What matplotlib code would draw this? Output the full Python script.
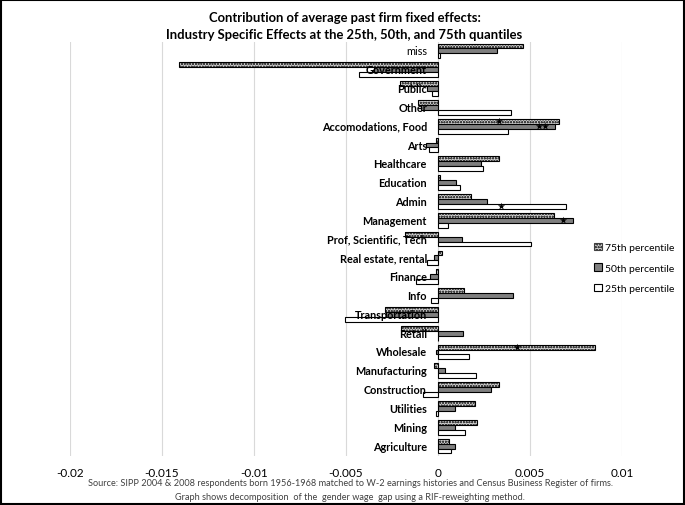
import matplotlib.pyplot as plt
import numpy as np
from matplotlib.patches import Rectangle

plt.rcParams['font.family'] = ['Lato', 'DejaVu Sans']
plt.rcParams['hatch.linewidth'] = 0.6

# top to bottom as in the chart
categories = ["miss", "Government", "Public", "Other", "Accomodations, Food",
              "Arts", "Healthcare", "Education", "Admin", "Management",
              "Prof, Scientific, Tech", "Real estate, rental", "Finance",
              "Info", "Transportation", "Retail", "Wholesale",
              "Manufacturing", "Construction", "Utilities", "Mining",
              "Agriculture"]
p75 = [0.0046, -0.01405, -0.00205, -0.0011, 0.00655, -0.0001, 0.0033,
       0.0001, 0.0018, 0.00628, -0.00182, 0.0002, -0.0001, 0.0014,
       -0.0029, -0.002, 0.00855, -0.0002, 0.0033, 0.002, 0.0021, 0.0006]
p50 = [0.00318, -0.0035, -0.0006, -0.0009, 0.00637, -0.00064, 0.00236,
       0.001, 0.00267, 0.00736, 0.0013, -0.00023, -0.00046, 0.00407,
       -0.0028, 0.00135, -0.0001, 0.0004, 0.0029, 0.0009, 0.0009, 0.0009]
p25 = [0.0001, -0.00432, -0.0003, 0.00398, 0.00378, -0.0005, 0.00247,
       0.00117, 0.00697, 0.00057, 0.00506, -0.0006, -0.0012, -0.0004,
       -0.00508, 0.0, 0.00168, 0.00208, -0.00082, -0.0001, 0.00148, 0.0007]

# significance stars
star_cat = ["Accomodations, Food", "Accomodations, Food", "Accomodations, Food",
            "Admin", "Management", "Wholesale"]
star_pct = ["75th", "50th", "50th", "25th", "50th", "75th"]
star_x = [0.00329, 0.00547, 0.00584, 0.00345, 0.00682, 0.00428]

xticks = [-0.02, -0.015, -0.01, -0.005, 0, 0.005, 0.01]
xticklabels = ["-0.02", "-0.015", "-0.01", "-0.005", "0", "0.005", "0.01"]

n = len(categories)
y = np.arange(n)[::-1]
h = 0.26
offs = {"75th": h, "50th": 0.0, "25th": -h}
label_font = ['Liberation Sans Narrow', 'Lato', 'DejaVu Sans']

fig = plt.figure(figsize=(6.85, 5.06), dpi=100)
ax = fig.add_axes([70 / 685, 1 - 456.5 / 506, 552 / 685, 414 / 506])

# y axis sits at zero; do this before styling the tick labels
ax.spines["left"].set_position(("data", 0))
for s in ax.spines.values():
    s.set_visible(False)
ax.set_axisbelow(False)  # category labels drawn over the bars

for xt in xticks:
    ax.axvline(xt, color="#d9d9d9", linewidth=0.8, zorder=0)

ax.barh(y + h, p75, height=h, color="#d0d0d0", edgecolor="#404040",
        hatch="oooooo", linewidth=0, zorder=1)
ax.barh(y + h, p75, height=h, fill=False, edgecolor="black",
        linewidth=0.8, zorder=1)
ax.barh(y, p50, height=h, color="#7f7f7f", edgecolor="black",
        linewidth=0.8, zorder=1)
ax.barh(y - h, p25, height=h, color="white", edgecolor="black",
        linewidth=0.8, zorder=1)

sy = [y[categories.index(c)] + offs[p] for c, p in zip(star_cat, star_pct)]
ax.scatter(star_x, sy, marker="*", s=30, color="black", linewidths=0,
           zorder=3)

ax.set_xlim(-0.02, 0.01)
ax.set_ylim(-0.5, n - 0.5)
ax.tick_params(axis="both", length=0)
ax.tick_params(axis="y", pad=8)
ax.tick_params(axis="x", pad=8)
ax.set_xticks(xticks)
ax.set_xticklabels(xticklabels, fontsize=8.5)
ax.set_yticks(y)
ax.set_yticklabels(categories, fontsize=7.8, fontweight="bold",
                   family=label_font, va="center")
ax.get_yticklabels()[0].set_fontweight("normal")

handles = [Rectangle((0, 0), 1, 1, facecolor="#d0d0d0", edgecolor="#404040",
                     hatch="oooooo", linewidth=0.8),
           Rectangle((0, 0), 1, 1, facecolor="#7f7f7f", edgecolor="black",
                     linewidth=0.8),
           Rectangle((0, 0), 1, 1, facecolor="white", edgecolor="black",
                     linewidth=0.8)]
fig.legend(handles, ["75th percentile", "50th percentile", "25th percentile"],
           loc="center left", bbox_to_anchor=(589 / 685, 1 - 269 / 506),
           frameon=False, fontsize=7.5, handlelength=0.7, handleheight=0.7,
           handletextpad=0.35, labelspacing=1.05, borderpad=0)

fig.text(0.503, 1 - 18 / 506, "Contribution of average past firm fixed effects:",
         ha="center", va="center", fontsize=9.4, fontweight="bold")
fig.text(0.503, 1 - 35 / 506,
         "Industry Specific Effects at the 25th, 50th, and 75th quantiles",
         ha="center", va="center", fontsize=9.4, fontweight="bold")
fig.text(0.511, 1 - 484 / 506,
         "Source: SIPP 2004 & 2008 respondents born 1956-1968 matched to W-2 "
         "earnings histories and Census Business Register of firms.",
         ha="center", va="center", fontsize=6.6, color="#404040")
fig.text(0.511, 1 - 498 / 506,
         "Graph shows decomposition  of the  gender wage  gap using a "
         "RIF-reweighting method.",
         ha="center", va="center", fontsize=6.6, color="#404040")

fig.patches.append(Rectangle((0.001, 0.001), 0.997, 0.997,
                             transform=fig.transFigure, fill=False,
                             edgecolor="black", linewidth=1.5))

fig.savefig("out.png", dpi=100)
